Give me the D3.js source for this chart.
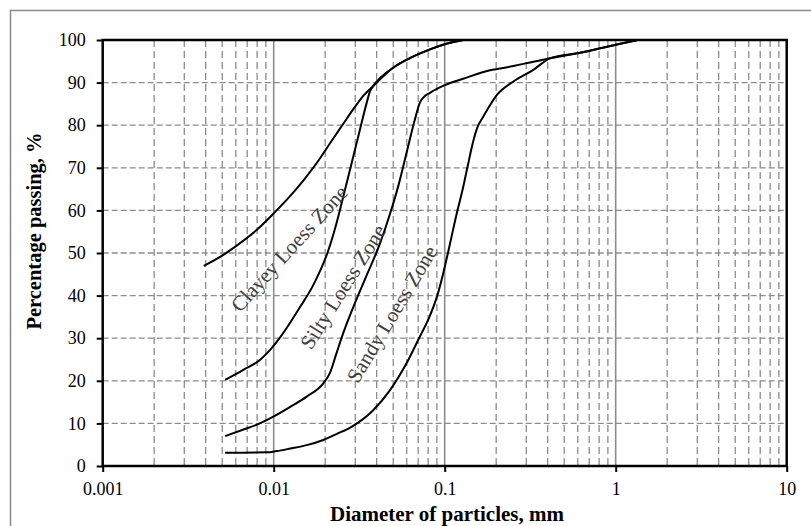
<!DOCTYPE html>
<meta charset="utf-8">
<style>
  body { margin: 0; background: #fff; }
  text { font-family: "Liberation Serif", "Times New Roman", serif; }
</style>
<script src="https://d3js.org/d3.v7.min.js"></script>
<div id="chart"></div>
<script>
// grading curves, [diameter mm, % passing]
var clayeyUpper = [[0.0039,47],[0.005,49.4],[0.0063,52.2],[0.008,55.5],[0.01,59.3],[0.0125,63.4],[0.0153,67.6],
  [0.0185,72],[0.0213,75.7],[0.025,79.8],[0.0295,84],[0.0334,86.9],[0.0382,89.2],[0.05,93.5],[0.063,95.8],
  [0.082,97.8],[0.1,99],[0.128,100]];
var clayeySilty = [[0.0052,20.2],[0.0066,22.5],[0.0083,24.9],[0.0095,27.2],[0.0109,30.2],[0.0125,33.7],[0.0142,37.2],
  [0.017,42.4],[0.0209,50.7],[0.0233,57],[0.0261,64.8],[0.0313,77.5],[0.035,85.3],[0.0366,88],[0.0382,89.2],
  [0.05,93.5],[0.063,95.8],[0.082,97.8],[0.1,99],[0.128,100]];
var siltySandy = [[0.0052,7],[0.0066,8.5],[0.0083,10],[0.00995,11.6],[0.0125,13.9],[0.0156,16.3],[0.0195,19.4],
  [0.0213,21.8],[0.0233,26.5],[0.0255,31.2],[0.0292,37.3],[0.035,44.8],[0.0419,52.3],[0.0479,59.2],[0.0535,65.7],
  [0.0598,73.5],[0.067,81.4],[0.0716,85.3],[0.075,86.5],[0.082,87.6],[0.1,89.4],[0.128,90.9],[0.184,92.9],
  [0.211,93.3],[0.33,94.9],[0.413,95.7],[0.62,97],[1.0,98.9],[1.35,100]];
var sandyLower = [[0.0052,3.1],[0.0091,3.2],[0.0104,3.5],[0.0125,4.1],[0.0156,4.9],[0.0195,6.1],[0.0233,7.5],
  [0.0285,9.2],[0.0382,13.1],[0.0479,17.8],[0.0598,24.1],[0.0716,30.4],[0.08,34.3],[0.0905,40],[0.098,45.2],
  [0.107,51.9],[0.1175,59.2],[0.128,65.3],[0.1368,70.7],[0.1466,76.1],[0.1547,79.3],[0.1675,81.9],[0.184,84.7],
  [0.202,87.1],[0.251,90.2],[0.33,93],[0.413,95.7],[0.62,97],[1.0,98.9],[1.35,100]];
var curves = [clayeyUpper, clayeySilty, siltySandy, sandyLower];

// zone labels: text, centre [mm, %], angle
var zoneNames = ["Clayey Loess Zone", "Silty Loess Zone", "Sandy Loess Zone"];
var zoneCentres = [[0.01229,51.1],[0.0254,42.1],[0.049,35.7]];
var zoneAngles = [-47.7, -57.8, -59];

var xTicks = [0.001, 0.01, 0.1, 1, 10];
var yTicks = [0,10,20,30,40,50,60,70,80,90,100];

var width = 811, height = 526;
var margin = {top: 40, right: 24.3, bottom: 60, left: 102.7};

var svg = d3.select("#chart").append("svg")
  .attr("width", width)
  .attr("height", height);

// outer frame
svg.append("rect")
  .attr("x", 10.5).attr("y", 10.5)
  .attr("width", 830).attr("height", 540)
  .style("fill", "none").style("stroke", "#8a8a8a").style("stroke-width", 1.5);

var x = d3.scaleLog().domain([0.001, 10]).range([margin.left, width - margin.right]);
var y = d3.scaleLinear().domain([0, 100]).range([height - margin.bottom, margin.top]);

// minor vertical grid (2..9 of each decade)
var minor = x.ticks().filter(function(d) { return xTicks.indexOf(d) < 0; });
svg.selectAll("line.vminor")
  .data(minor).enter().append("line")
  .attr("x1", function(d) { return x(d); }).attr("x2", function(d) { return x(d); })
  .attr("y1", y(100)).attr("y2", y(0))
  .style("stroke", "#8c8c8c").style("stroke-width", 1.3).style("stroke-dasharray", "7,4");

// horizontal grid
svg.selectAll("line.hgrid")
  .data(yTicks.slice(1, -1)).enter().append("line")
  .attr("x1", x(0.001)).attr("x2", x(10))
  .attr("y1", function(d) { return y(d); }).attr("y2", function(d) { return y(d); })
  .style("stroke", "#8c8c8c").style("stroke-width", 1.3).style("stroke-dasharray", "6,3");

// decade lines
svg.selectAll("line.vmajor")
  .data(xTicks.slice(1, -1)).enter().append("line")
  .attr("x1", function(d) { return x(d); }).attr("x2", function(d) { return x(d); })
  .attr("y1", y(100)).attr("y2", y(0))
  .style("stroke", "#8c8c8c").style("stroke-width", 1.6);

// curves
var line = d3.line()
  .x(function(d) { return x(d[0]); })
  .y(function(d) { return y(d[1]); })
  .curve(d3.curveMonotoneX);

svg.selectAll("path.curve")
  .data(curves).enter().append("path")
  .attr("d", line)
  .style("fill", "none").style("stroke", "#000").style("stroke-width", 2);

// zone labels
svg.selectAll("text.zone")
  .data(zoneNames).enter().append("text")
  .attr("transform", function(d, i) {
    return "translate(" + x(zoneCentres[i][0]) + "," + y(zoneCentres[i][1]) + ") rotate(" + zoneAngles[i] + ")";
  })
  .attr("text-anchor", "middle")
  .attr("dy", "0.35em")
  .style("font-size", "21px")
  .style("fill", "#404040")
  .text(function(d) { return d; });

// axes
var xAxis = svg.append("g")
  .attr("transform", "translate(0," + y(0) + ")")
  .call(d3.axisBottom(x).tickValues(xTicks).tickFormat(d3.format("~g")).tickSize(6).tickPadding(10));
var yAxis = svg.append("g")
  .attr("transform", "translate(" + x(0.001) + ",0)")
  .call(d3.axisLeft(y).tickValues(yTicks).tickSize(6).tickPadding(11));

[xAxis, yAxis].forEach(function(a) {
  a.select(".domain").remove();
  a.selectAll(".tick line").style("stroke", "#000").style("stroke-width", 2);
  a.selectAll(".tick text")
    .style("font-family", "'Liberation Serif', 'Times New Roman', serif")
    .style("font-size", "18px").style("fill", "#000");
});

// plot frame
svg.append("rect")
  .attr("x", x(0.001)).attr("y", y(100))
  .attr("width", x(10) - x(0.001)).attr("height", y(0) - y(100))
  .style("fill", "none").style("stroke", "#000").style("stroke-width", 2.5);

// axis titles
svg.append("text")
  .attr("x", 447)
  .attr("y", 521)
  .attr("text-anchor", "middle")
  .style("font-size", "21px").style("font-weight", "bold")
  .text("Diameter of particles, mm");

svg.append("text")
  .attr("transform", "translate(41," + 231 + ") rotate(-90)")
  .attr("text-anchor", "middle")
  .style("font-size", "20.5px").style("font-weight", "bold")
  .text("Percentage  passing, %");
</script>
